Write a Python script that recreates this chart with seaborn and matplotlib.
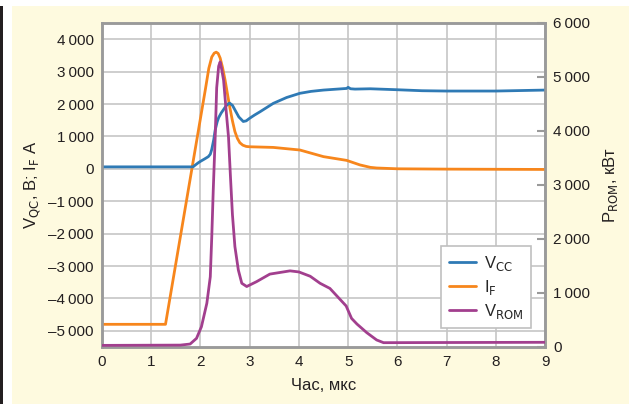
import matplotlib
matplotlib.use("Agg")
import matplotlib.pyplot as plt
import matplotlib.patches as mpatches
from matplotlib.ticker import FuncFormatter
import seaborn as sns
import pandas as pd

# ---------------- data ----------------
t_vcc = [0, 1.85, 1.89, 1.95, 2.0, 2.08, 2.16, 2.20, 2.23, 2.27, 2.30, 2.34, 2.37, 2.42,
         2.47, 2.53, 2.59, 2.65, 2.70, 2.78, 2.87, 2.93, 3.0, 3.1, 3.21, 3.48, 3.75, 4.02,
         4.25, 4.5, 4.97, 5.0, 5.05, 5.14, 5.45, 6.0, 6.5, 7.0, 8.0, 9.0]
v_vcc = [60, 60, 110, 180, 230, 300, 375, 450, 600, 900, 1200, 1450, 1580, 1720,
         1830, 1960, 2030, 1960, 1820, 1600, 1460, 1480, 1560, 1660, 1760, 2020, 2200, 2330,
         2390, 2430, 2480, 2515, 2470, 2460, 2470, 2440, 2410, 2400, 2400, 2430]

t_if = [0, 1.29, 2.10, 2.17, 2.23, 2.28, 2.32, 2.36, 2.40, 2.45, 2.50, 2.55,
        2.60, 2.65, 2.70, 2.75, 2.80, 2.86, 2.93, 3.0, 3.48, 4.02, 4.5, 4.97, 5.24, 5.45,
        5.58, 6.0, 7.0, 9.0]
v_if = [-4800, -4800, 2450, 3100, 3450, 3570, 3600, 3560, 3420, 3120, 2740, 2300,
        1870, 1480, 1150, 940, 805, 730, 690, 680, 660, 580, 375, 260, 120, 45,
        25, 0, -10, -20]

t_rom = [0, 1.59, 1.79, 1.92, 2.02, 2.13, 2.20, 2.23, 2.26, 2.30, 2.33, 2.37, 2.40, 2.43,
         2.47, 2.52, 2.57, 2.61, 2.65, 2.70, 2.77, 2.84, 2.94, 3.14, 3.41, 3.82, 4.0, 4.23,
         4.43, 4.63, 4.96, 5.07, 5.18, 5.38, 5.58, 5.72, 6.5, 9.0]
v_rom = [30, 35, 55, 160, 375, 810, 1300, 2040, 2900, 3900, 4800, 5200, 5280, 5150,
         4940, 4400, 3890, 3150, 2450, 1860, 1425, 1180, 1120, 1210, 1350, 1410, 1390, 1310,
         1180, 1085, 760, 530, 425, 265, 130, 80, 82, 87]

left_ticks = [-5000, -4000, -3000, -2000, -1000, 0, 1000, 2000, 3000, 4000]
right_ticks = [0, 1000, 2000, 3000, 4000, 5000, 6000]
x_ticks = [0, 1, 2, 3, 4, 5, 6, 7, 8, 9]

lbl_vcc = r"V$_{\mathrm{CC}}$"
lbl_if = r"I$_{\mathrm{F}}$"
lbl_rom = r"V$_{\mathrm{ROM}}$"

# ---------------- style ----------------
sns.set_style("white")
FONT = ["Liberation Sans Narrow", "Liberation Sans", "DejaVu Sans"]
plt.rcParams["font.family"] = FONT
plt.rcParams["mathtext.fontset"] = "custom"
plt.rcParams["mathtext.rm"] = "Liberation Sans Narrow"
plt.rcParams["mathtext.it"] = "Liberation Sans Narrow"
plt.rcParams["mathtext.default"] = "rm"

C_BLUE = "#2f7ab5"
C_ORANGE = "#f7861c"
C_PURPLE = "#a23f8e"
C_GRID = "#c6c6c6"
C_SPINE = "#9a9a9a"
CREAM = "#fefadf"
LW = 2.0

fig = plt.figure(figsize=(6.29, 4.04), dpi=100, facecolor="white")
fig.patches.append(mpatches.Rectangle((12 / 629, 0), 1 - 12 / 629, 1 - 6 / 404,
                                      transform=fig.transFigure, facecolor=CREAM,
                                      edgecolor="none", zorder=-10))
fig.patches.append(mpatches.Rectangle((0, 0), 3 / 629, 1 - 6 / 404,
                                      transform=fig.transFigure, facecolor="#231f20",
                                      edgecolor="none", zorder=-10))

ax = fig.add_axes([102 / 629, 1 - 347 / 404, 443 / 629, 324 / 404])
ax.set_facecolor("white")
ax2 = ax.twinx()

df_vcc = pd.DataFrame({"t": t_vcc, "v": v_vcc})
df_if = pd.DataFrame({"t": t_if, "v": v_if})
df_rom = pd.DataFrame({"t": t_rom, "v": v_rom})

sns.lineplot(data=df_if, x="t", y="v", ax=ax, color=C_ORANGE, lw=LW, label=lbl_if,
             legend=False, zorder=3)
sns.lineplot(data=df_vcc, x="t", y="v", ax=ax, color=C_BLUE, lw=LW, label=lbl_vcc,
             legend=False, zorder=4)
sns.lineplot(data=df_rom, x="t", y="v", ax=ax2, color=C_PURPLE, lw=LW, label=lbl_rom,
             legend=False, zorder=3)
for a in (ax, ax2):
    for ln in a.get_lines():
        ln.set_solid_joinstyle("round")

ax.set_xlim(0, 9)
ax.set_ylim(-5500, 4500)
ax2.set_ylim(0, 6000)
ax.set_xticks(x_ticks)
ax.set_yticks(left_ticks)
ax2.set_yticks(right_ticks)


def fmt(v, pos=None):
    v = int(round(v))
    s = f"{abs(v):,}".replace(",", "\u2009")
    return ("\u2013" + s) if v < 0 else s


ax.yaxis.set_major_formatter(FuncFormatter(fmt))
ax2.yaxis.set_major_formatter(FuncFormatter(fmt))

ax.grid(True, color=C_GRID, lw=1.2)
ax.set_axisbelow(True)
for a in (ax, ax2):
    for sp in a.spines.values():
        sp.set_color(C_SPINE)
        sp.set_linewidth(1.8)
        sp.set_visible(True)

ax.tick_params(axis="both", length=0, labelsize=11, colors="#231f20", pad=6)
ax2.tick_params(axis="y", direction="in", length=6, width=1.5, color=C_SPINE,
                labelsize=11, labelcolor="#231f20", pad=6)

ax.set_xlabel("Час, мкс", fontsize=12, color="#231f20", labelpad=6)
ax.set_ylabel(r"V$_{\mathrm{QC}}$, B; I$_{\mathrm{F}}$ A", fontsize=12, color="#231f20",
              labelpad=4)
ax2.set_ylabel(r"P$_{\mathrm{ROM}}$, кВт", fontsize=12, color="#231f20", labelpad=8)

h1, l1 = ax.get_legend_handles_labels()
h2, l2 = ax2.get_legend_handles_labels()
hd = dict(zip(l1 + l2, h1 + h2))
order = [lbl_vcc, lbl_if, lbl_rom]
leg = ax2.legend([hd[k] for k in order], order, loc="lower right",
                 bbox_to_anchor=(0.968, 0.0586), borderaxespad=0, fancybox=False,
                 framealpha=1, edgecolor="#c0c0c0", fontsize=12, handlelength=1.6,
                 handletextpad=0.5, labelspacing=0.3, borderpad=0.45)
leg.get_frame().set_linewidth(1.2)

fig.savefig("out.png", dpi=100, facecolor=fig.get_facecolor())
